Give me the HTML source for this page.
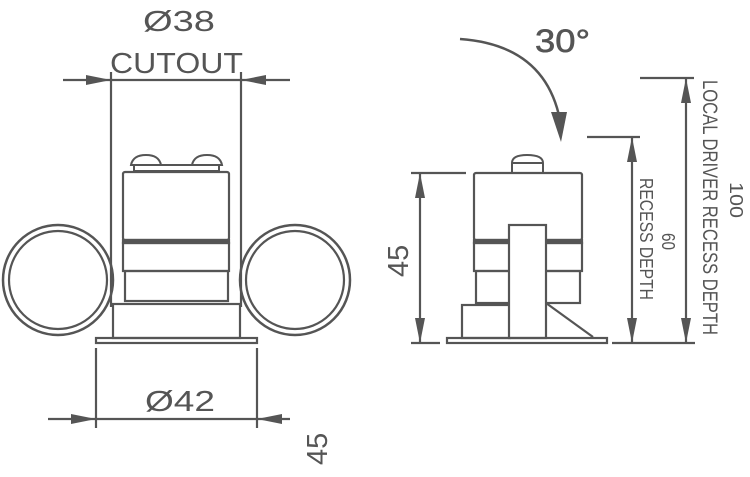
<!DOCTYPE html>
<html><head><meta charset="utf-8"><style>html,body{margin:0;padding:0;background:#fff}svg{display:block}</style></head>
<body>
<svg width="750" height="477" viewBox="0 0 750 477" xmlns="http://www.w3.org/2000/svg" font-family="Liberation Sans, sans-serif" fill="none" stroke="#555" stroke-width="2.2">
<!-- LEFT -->
<g fill="#555" stroke="none" font-weight="300">
<text x="143" y="31" font-size="29" textLength="72" lengthAdjust="spacingAndGlyphs">Ø38</text>
<text x="110" y="73" font-size="29" textLength="133" lengthAdjust="spacingAndGlyphs">CUTOUT</text>
<text x="145" y="411" font-size="29" textLength="70" lengthAdjust="spacingAndGlyphs">Ø42</text>
<text transform="translate(327,465) rotate(-90)" font-size="29">45</text>
</g>
<line x1="111" y1="72" x2="111" y2="307"/>
<line x1="241" y1="72" x2="241" y2="307"/>
<line x1="63" y1="80" x2="290" y2="80"/>
<path d="M111,80L86,75L86,85z M241,80L266,75L266,85z" fill="#555" stroke="none"/>
<line x1="96" y1="348" x2="96" y2="428"/>
<line x1="257" y1="348" x2="257" y2="428"/>
<line x1="48" y1="419" x2="290" y2="419"/>
<path d="M96,419L71,414L71,424z M257,419L282,414L282,424z" fill="#555" stroke="none"/>
<circle cx="58" cy="280" r="55" stroke-width="2.5"/>
<circle cx="58" cy="280" r="49"/>
<circle cx="295" cy="280" r="55" stroke-width="2.5"/>
<circle cx="295" cy="280" r="49"/>
<path d="M131,165Q133,155 146,155Q159,155 161,165Z M192,165Q194,155 207,155Q220,155 222,165Z" stroke-width="2"/>
<rect x="134" y="165" width="85" height="6" stroke-width="2"/>
<rect x="123" y="172" width="106" height="68" rx="2"/>
<rect x="123" y="240" width="106" height="3" fill="#555"/>
<rect x="123" y="243" width="106" height="28"/>
<rect x="125" y="271" width="103" height="30"/>
<rect x="113" y="304" width="127" height="34"/>
<rect x="96" y="338" width="161" height="5"/>
<!-- RIGHT -->
<g fill="#555" stroke="none">
<text x="535" y="52" font-size="32" textLength="55" lengthAdjust="spacingAndGlyphs" stroke="#555" stroke-width="0.6">30°</text>
<g font-weight="300">
<text transform="translate(408,277) rotate(-90)" font-size="29">45</text>
<text transform="translate(640,178) rotate(90)" font-size="18" textLength="122" lengthAdjust="spacingAndGlyphs">RECESS DEPTH</text>
<text transform="translate(662,233) rotate(90)" font-size="18" textLength="17" lengthAdjust="spacingAndGlyphs">60</text>
<text transform="translate(703,80) rotate(90)" font-size="21" textLength="255" lengthAdjust="spacingAndGlyphs">LOCAL DRIVER RECESS DEPTH</text>
<text transform="translate(730,182) rotate(90)" font-size="18" textLength="36" lengthAdjust="spacingAndGlyphs">100</text>
</g>
</g>
<path d="M460,39Q545,45 560,120" stroke-width="2.5"/>
<path d="M561,142L551,112L567,112z" fill="#555" stroke="none"/>
<line x1="411" y1="173" x2="466" y2="173"/>
<line x1="411" y1="343" x2="440" y2="343"/>
<line x1="420" y1="173" x2="420" y2="343"/>
<path d="M420,173L415,198L425,198z M420,343L415,318L425,318z" fill="#555" stroke="none"/>
<line x1="587" y1="137" x2="640" y2="137"/>
<line x1="612" y1="343" x2="695" y2="343"/>
<line x1="632" y1="137" x2="632" y2="343"/>
<path d="M632,137L627,162L637,162z M632,343L627,318L637,318z" fill="#555" stroke="none"/>
<line x1="640" y1="78" x2="694" y2="78"/>
<line x1="686" y1="78" x2="686" y2="343"/>
<path d="M686,78L681,103L691,103z M686,343L681,318L691,318z" fill="#555" stroke="none"/>
<path d="M512,172L512,163Q512,155 527,155Q543,155 543,163L543,172" stroke-width="2"/>
<line x1="512" y1="163" x2="543" y2="163" stroke-width="2"/>
<rect x="474" y="173" width="108" height="67" rx="2"/>
<rect x="474" y="240" width="108" height="3" fill="#555"/>
<rect x="474" y="243" width="108" height="28"/>
<rect x="476" y="271" width="104" height="32"/>
<rect x="462" y="305" width="48" height="33" fill="#fff"/>
<path d="M546,303L593,337" />
<rect x="509" y="225" width="37" height="113" fill="#fff"/>
<rect x="447" y="338" width="160" height="5"/>
</svg>
</body></html>
